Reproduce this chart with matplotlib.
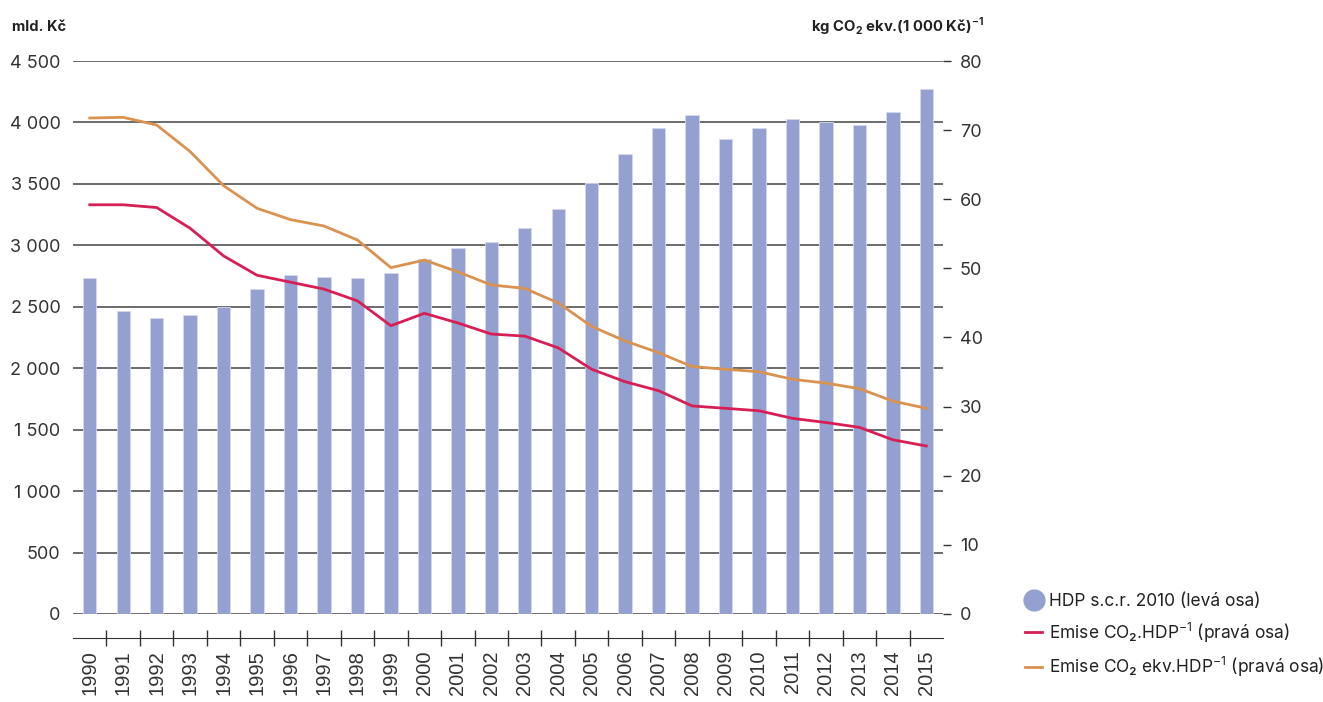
import matplotlib.pyplot as plt
import matplotlib.ticker as ticker
from matplotlib.lines import Line2D
import numpy as np

plt.rcParams["font.family"] = ["Inter", "DejaVu Sans"]

years = list(range(1990, 2016))
hdp = [2734, 2466, 2409, 2433, 2498, 2645, 2759, 2742, 2734, 2775, 2891, 2978, 3027,
       3139, 3293, 3505, 3746, 3955, 4061, 3863, 3952, 4031, 4001, 3977, 4088, 4272]
co2 = [59.2, 59.2, 58.8, 55.8, 51.8, 49.0, 48.0, 47.0, 45.3, 41.7, 43.5, 42.1, 40.5,
       40.2, 38.5, 35.4, 33.6, 32.3, 30.1, 29.75, 29.4, 28.3, 27.7, 27.0, 25.2, 24.3]
co2_ekv = [71.75, 71.85, 70.74, 66.9, 61.96, 58.69, 57.05, 56.13, 54.1, 50.1, 51.2, 49.5, 47.6,
           47.1, 45.0, 41.6, 39.5, 37.8, 35.8, 35.4, 35.05, 33.95, 33.4, 32.6, 30.8, 29.75]

c_bar = "#93a0d0"
c_red = "#d81f55"
c_orange = "#d9924f"
c_txt = "#333333"

fig = plt.figure(figsize=(13.23, 7.02), dpi=100)
ax = fig.add_axes([0.0552, 0.1254, 0.6576, 0.7877])
x = np.arange(len(years))

ax.set_axisbelow(True)
ax.bar(x, hdp, width=0.4, color=c_bar, edgecolor="#d4d9ef", linewidth=0.6, zorder=2)
ax.set_xlim(-0.5, len(years) - 0.5)
ax.set_ylim(0, 4500)
ax.set_yticks(np.arange(0, 4501, 500))
ax.yaxis.set_major_formatter(ticker.FuncFormatter(lambda v, p: f"{int(v):,}".replace(",", " ")))
ax.grid(axis="y", color="#444444", linewidth=1.1)
ax.tick_params(axis="y", length=0, pad=9, labelsize=13, labelcolor=c_txt)

for s in ["top", "left", "right"]:
    ax.spines[s].set_visible(False)
ax.spines["bottom"].set_position(("outward", 17))
ax.spines["bottom"].set_color("#333333")
ax.set_xticks(x)
ax.set_xticklabels([str(y) for y in years], rotation=90, fontsize=14.5,
                   family=["Liberation Sans", "DejaVu Sans"], color=c_txt)
ax.tick_params(axis="x", which="major", length=0, pad=9)
ax.set_xticks(np.arange(0.5, len(years) - 1, 1), minor=True)
ax.tick_params(axis="x", which="minor", length=11, direction="inout", color="#333333", width=1)

ax2 = ax.twinx()
ax2.set_ylim(0, 80)
ax2.set_yticks(np.arange(0, 81, 10))
for s in ["top", "left", "right", "bottom"]:
    ax2.spines[s].set_visible(False)
ax2.tick_params(axis="y", length=6, width=1, color="#333333", pad=6, labelsize=13, labelcolor=c_txt)
ax2.plot(x, co2, color=c_red, linewidth=2, zorder=3)
ax2.plot(x, co2_ekv, color=c_orange, linewidth=2, zorder=3)

fig.text(0.009, 0.962, "mld. Kč", fontsize=10.5, fontweight="bold", color="#222222", va="center")
fig.text(0.744, 0.962, "kg CO$_\\mathregular{2}$ ekv.(1 000 Kč)$^\\mathregular{-1}$", fontsize=10.7,
         fontweight="bold", color="#222222", va="center", ha="right")

handles = [
    Line2D([], [], marker="o", linestyle="none", markersize=15, color=c_bar),
    Line2D([], [], color=c_red, linewidth=2),
    Line2D([], [], color=c_orange, linewidth=2),
]
labels = ["HDP s.c.r. 2010 (levá osa)",
          "Emise CO₂.HDP$^\\mathregular{-1}$ (pravá osa)",
          "Emise CO₂ ekv.HDP$^\\mathregular{-1}$ (pravá osa)"]
fig.legend(handles, labels, loc="upper left", bbox_to_anchor=(0.763, 0.178), frameon=False,
           fontsize=12.5, handlelength=1.0, handletextpad=0.35, labelspacing=0.62, labelcolor="#222222")

fig.savefig("out.png", dpi=100)
